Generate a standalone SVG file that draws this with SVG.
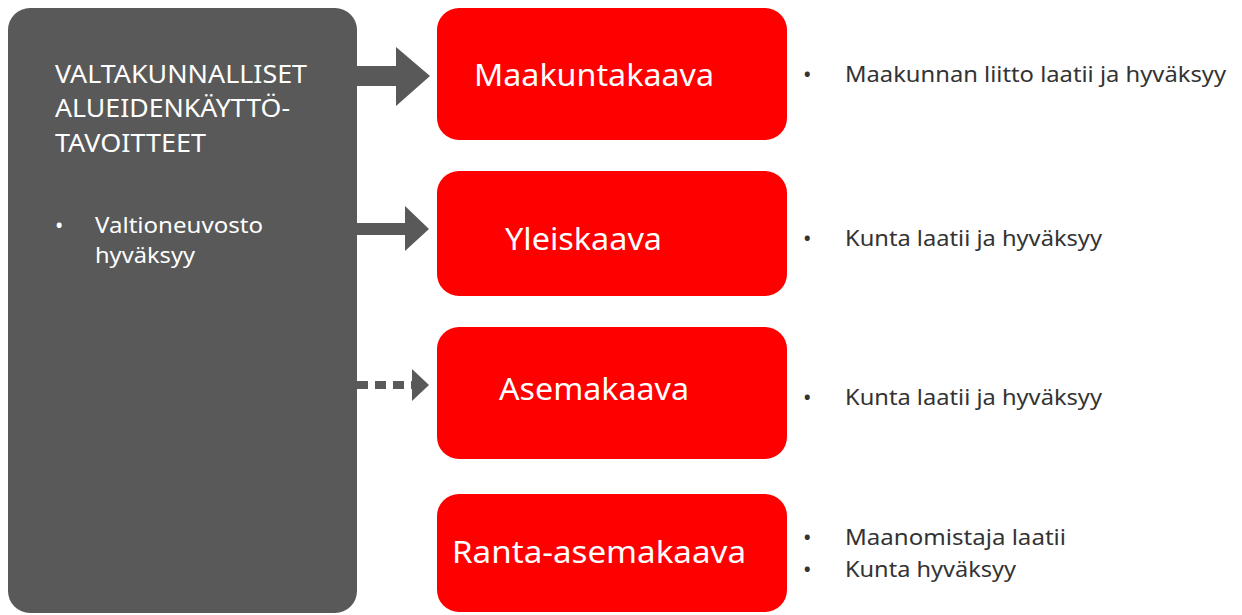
<svg xmlns="http://www.w3.org/2000/svg" width="1242" height="615" viewBox="0 0 1242 615">
<style>
.dark{fill:#595959}
.red{fill:#ff0000}
.wt{fill:#ffffff;font-family:"Noto Sans","Open Sans",sans-serif}
.bt{fill:#333333;font-family:"Noto Sans","Open Sans",sans-serif;font-size:22.5px}
.title{font-size:25px}
.sub{font-size:22px}
.node{font-size:31px}
.conn{fill:#595959}
</style>
<rect width="1242" height="615" fill="#ffffff"/>
<g id="valtakunnalliset">
<rect class="dark" x="8" y="8" width="349" height="605" rx="22"/>
<text class="wt title" x="55" y="83" textLength="252" lengthAdjust="spacingAndGlyphs">VALTAKUNNALLISET</text>
<text class="wt title" x="55" y="117" textLength="235" lengthAdjust="spacingAndGlyphs">ALUEIDENKÄYTTÖ-</text>
<text class="wt title" x="55" y="152" textLength="151" lengthAdjust="spacingAndGlyphs">TAVOITTEET</text>
<text class="wt sub" x="55" y="233">•</text>
<text class="wt sub" x="95" y="233" textLength="168" lengthAdjust="spacingAndGlyphs">Valtioneuvosto</text>
<text class="wt sub" x="95" y="263" textLength="100" lengthAdjust="spacingAndGlyphs">hyväksyy</text>
</g>
<g id="connectors">
<polygon class="conn" points="357,66 396,66 396,47 430,76 396,106 396,86 357,86"/>
<polygon class="conn" points="357,223 405,223 405,206 429,229 405,251 405,235 357,235"/>
<line x1="357" y1="385" x2="412" y2="385" stroke="#595959" stroke-width="8" stroke-dasharray="11,7"/>
<polygon class="conn" points="412,369 429,385 412,401"/>
</g>
<g id="maakuntakaava">
<rect class="red" x="437" y="8" width="350" height="132" rx="22"/>
<text class="wt node" x="474" y="86" textLength="240" lengthAdjust="spacingAndGlyphs">Maakuntakaava</text>
</g>
<g id="yleiskaava">
<rect class="red" x="437" y="171" width="350" height="125" rx="22"/>
<text class="wt node" x="505" y="250" textLength="157" lengthAdjust="spacingAndGlyphs">Yleiskaava</text>
</g>
<g id="asemakaava">
<rect class="red" x="437" y="327" width="350" height="132" rx="22"/>
<text class="wt node" x="499" y="400" textLength="190" lengthAdjust="spacingAndGlyphs">Asemakaava</text>
</g>
<g id="ranta-asemakaava">
<rect class="red" x="437" y="494" width="350" height="118" rx="22"/>
<text class="wt node" x="452" y="563" textLength="294" lengthAdjust="spacingAndGlyphs">Ranta-asemakaava</text>
</g>
<g id="notes">
<text class="bt" x="803" y="82">•</text>
<text class="bt" x="845" y="82" textLength="381" lengthAdjust="spacingAndGlyphs">Maakunnan liitto laatii ja hyväksyy</text>
<text class="bt" x="803" y="246">•</text>
<text class="bt" x="845" y="246" textLength="257" lengthAdjust="spacingAndGlyphs">Kunta laatii ja hyväksyy</text>
<text class="bt" x="803" y="405">•</text>
<text class="bt" x="845" y="405" textLength="257" lengthAdjust="spacingAndGlyphs">Kunta laatii ja hyväksyy</text>
<text class="bt" x="803" y="545">•</text>
<text class="bt" x="845" y="545" textLength="221" lengthAdjust="spacingAndGlyphs">Maanomistaja laatii</text>
<text class="bt" x="803" y="577">•</text>
<text class="bt" x="845" y="577" textLength="171" lengthAdjust="spacingAndGlyphs">Kunta hyväksyy</text>
</g>
</svg>
